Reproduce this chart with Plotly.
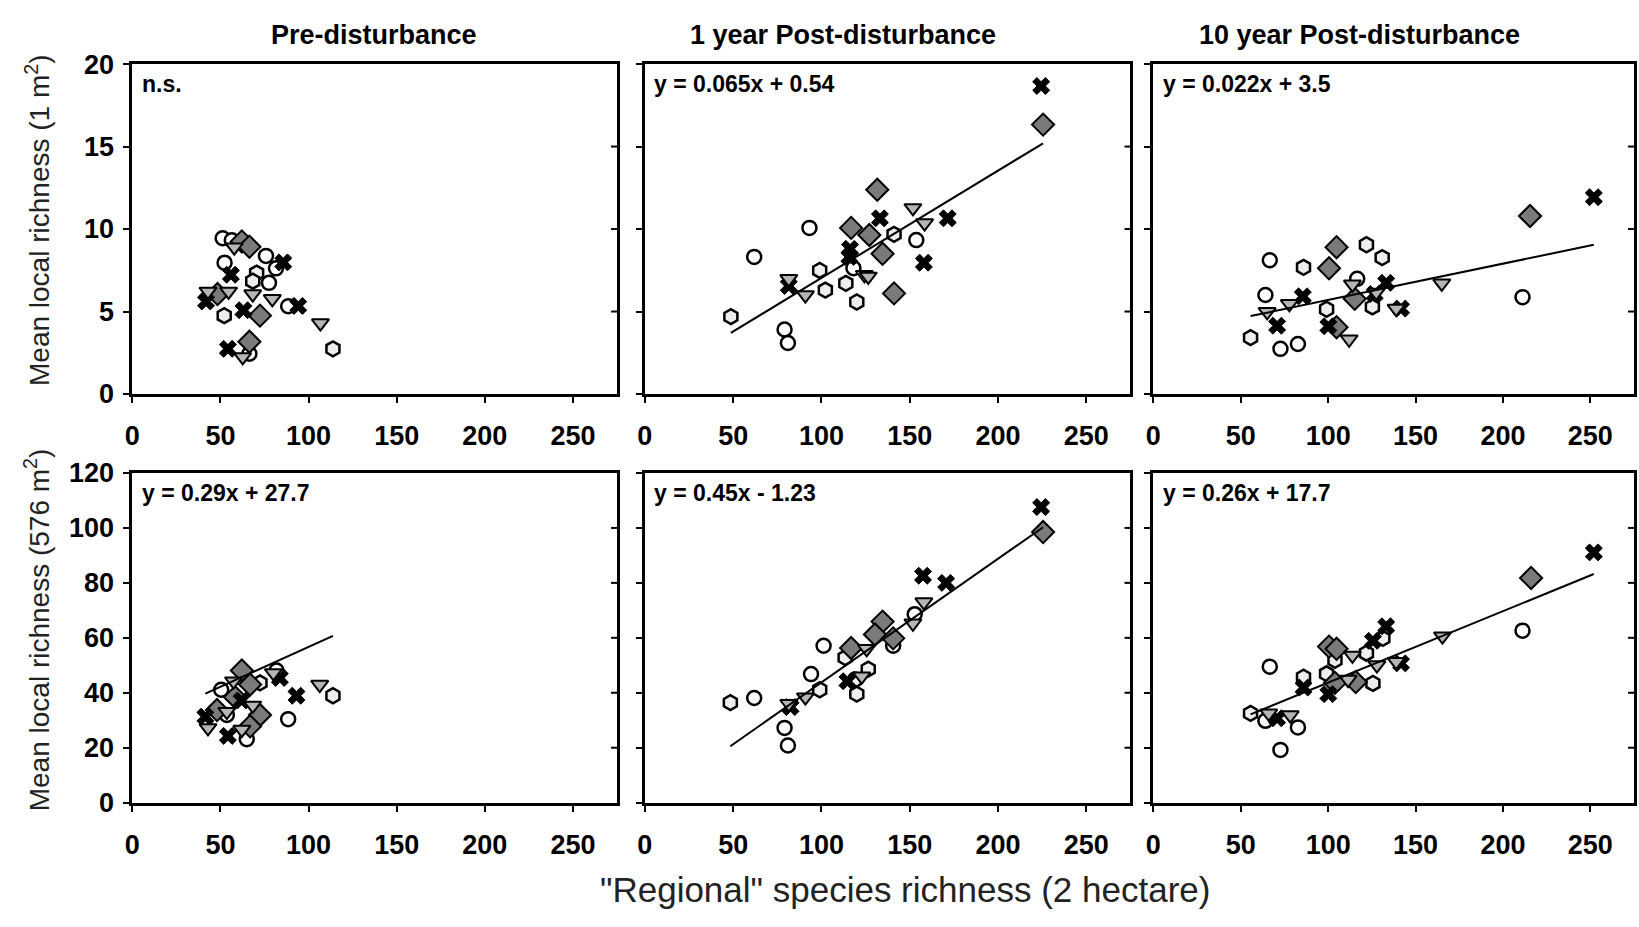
import plotly.graph_objects as go

# ---------------- data ----------------
# x = "regional" species richness (2 ha), y = mean local richness
# Panel 1: pre-disturbance, 1 m2
p1_circ_x = [51.2, 56.4, 52.3, 75.8, 81.5, 77.5, 88.4, 66.4]
p1_circ_y = [9.44, 9.32, 7.96, 8.37, 7.62, 6.74, 5.32, 2.44]
p1_hex_x = [70.5, 68.3, 52.1, 113.8]
p1_hex_y = [7.33, 6.84, 4.75, 2.74]
p1_dia_x = [62.1, 66.4, 48.3, 72.4, 66.4]
p1_dia_y = [9.25, 8.93, 6.06, 4.75, 3.17]
p1_x_x = [85.6, 55.9, 41.8, 63.0, 94.1, 54.2]
p1_x_y = [7.98, 7.23, 5.61, 5.08, 5.34, 2.74]
p1_tri_x = [57.8, 42.9, 54.6, 68.3, 79.4, 106.7, 62.6]
p1_tri_y = [8.90, 6.22, 6.22, 6.06, 5.77, 4.30, 2.25]

# Panel 2: 1 year post-disturbance, 1 m2
p2_circ_x = [93.2, 61.9, 153.7, 79.1, 81.0, 118.1]
p2_circ_y = [10.07, 8.31, 9.33, 3.91, 3.09, 7.63]
p2_hex_x = [48.7, 99.0, 102.2, 113.8, 120.0, 141.1]
p2_hex_y = [4.69, 7.49, 6.30, 6.71, 5.58, 9.68]
p2_dia_x = [225.5, 131.6, 116.8, 127.1, 134.6, 141.1]
p2_dia_y = [16.33, 12.38, 10.07, 9.64, 8.50, 6.10]
p2_x_x = [224.4, 133.1, 171.5, 116.2, 115.8, 158.0, 81.5]
p2_x_y = [18.67, 10.65, 10.65, 8.80, 8.31, 7.96, 6.55]
p2_tri_x = [151.8, 158.4, 81.5, 90.9, 124.3, 126.5]
p2_tri_y = [11.28, 10.36, 6.98, 6.00, 7.23, 7.13]

# Panel 3: 10 year post-disturbance, 1 m2
p3_circ_x = [66.6, 64.1, 211.2, 72.7, 82.7, 116.6]
p3_circ_y = [8.11, 6.00, 5.87, 2.74, 3.03, 6.98]
p3_hex_x = [55.6, 85.9, 121.9, 130.9, 99.1, 125.3]
p3_hex_y = [3.42, 7.68, 9.05, 8.27, 5.14, 5.28]
p3_dia_x = [215.5, 104.8, 100.5, 115.2, 104.8]
p3_dia_y = [10.79, 8.90, 7.62, 5.77, 4.05]
p3_x_x = [252.0, 133.2, 85.5, 70.8, 100.1, 141.7, 126.6]
p3_x_y = [11.93, 6.74, 5.92, 4.14, 4.11, 5.18, 6.06]
p3_tri_x = [65.1, 77.8, 113.9, 127.5, 138.9, 165.0, 112.0]
p3_tri_y = [4.98, 5.47, 6.65, 6.16, 5.18, 6.71, 3.32]

# Panel 4: pre-disturbance, 576 m2
p4_circ_x = [88.4, 64.9, 50.4, 81.8, 53.6]
p4_circ_y = [30.4, 23.1, 41.1, 48.1, 31.9]
p4_hex_x = [113.8, 72.4]
p4_hex_y = [38.9, 43.6]
p4_dia_x = [62.1, 66.8, 58.3, 72.4, 48.0, 66.8]
p4_dia_y = [48.1, 43.0, 38.4, 31.9, 33.7, 27.8]
p4_x_x = [83.7, 93.1, 41.4, 54.2, 62.0]
p4_x_y = [45.4, 38.9, 31.3, 24.3, 37.2]
p4_tri_x = [106.3, 80.0, 57.4, 68.3, 42.9, 62.1, 53.6]
p4_tri_y = [43.0, 47.2, 44.2, 35.4, 27.2, 26.6, 33.1]

# Panel 5: 1 year post-disturbance, 576 m2
p5_circ_x = [61.9, 94.1, 101.2, 79.1, 81.0, 152.8, 140.6, 119.0]
p5_circ_y = [38.1, 46.8, 57.1, 27.2, 20.8, 68.6, 57.1, 44.8]
p5_hex_x = [48.4, 99.0, 113.4, 120.0, 126.5]
p5_hex_y = [36.4, 41.1, 52.8, 39.5, 48.6]
p5_dia_x = [225.5, 134.6, 130.3, 140.6, 116.8]
p5_dia_y = [98.5, 65.9, 61.2, 59.8, 56.3]
p5_x_x = [224.4, 157.5, 170.6, 114.7, 82.5]
p5_x_y = [107.6, 82.6, 80.0, 44.2, 34.8]
p5_tri_x = [158.0, 151.8, 125.6, 122.8, 90.9, 81.5]
p5_tri_y = [73.0, 65.3, 56.0, 46.0, 38.4, 36.0]

# Panel 6: 10 year post-disturbance, 576 m2
p6_circ_x = [66.6, 211.2, 64.1, 82.7, 72.7]
p6_circ_y = [49.5, 62.6, 29.8, 27.4, 19.2]
p6_hex_x = [55.6, 85.9, 99.1, 131.3, 121.9, 125.6, 103.9]
p6_hex_y = [32.5, 45.7, 46.9, 59.8, 54.4, 43.4, 51.8]
p6_dia_x = [216.1, 100.5, 104.8, 103.9, 115.8]
p6_dia_y = [81.8, 56.8, 56.0, 43.6, 43.9]
p6_x_x = [252.0, 133.2, 125.6, 141.7, 85.9, 100.1, 70.8]
p6_x_y = [91.1, 64.2, 58.9, 50.7, 41.9, 39.5, 30.7]
p6_tri_x = [165.4, 113.9, 127.9, 138.9, 111.4, 66.0, 78.3]
p6_tri_y = [60.6, 53.6, 50.1, 51.3, 44.8, 32.5, 31.9]

# Fitted lines (slope, intercept); None where not significant
fit_slope = [None, 0.065, 0.022, 0.29, 0.45, 0.26]
fit_intercept = [None, 0.54, 3.5, 27.7, -1.23, 17.7]
fit_labels = ["n.s.", "y = 0.065x + 0.54", "y = 0.022x + 3.5",
              "y = 0.29x + 27.7", "y = 0.45x - 1.23", "y = 0.26x + 17.7"]

col_titles = ["Pre-disturbance", "1 year Post-disturbance", "10 year Post-disturbance"]
x_ticks = [0, 50, 100, 150, 200, 250]
y_ticks_top = [0, 5, 10, 15, 20]
y_ticks_bottom = [0, 20, 40, 60, 80, 100, 120]

panels = [
    (p1_circ_x, p1_circ_y, p1_hex_x, p1_hex_y, p1_dia_x, p1_dia_y, p1_x_x, p1_x_y, p1_tri_x, p1_tri_y),
    (p2_circ_x, p2_circ_y, p2_hex_x, p2_hex_y, p2_dia_x, p2_dia_y, p2_x_x, p2_x_y, p2_tri_x, p2_tri_y),
    (p3_circ_x, p3_circ_y, p3_hex_x, p3_hex_y, p3_dia_x, p3_dia_y, p3_x_x, p3_x_y, p3_tri_x, p3_tri_y),
    (p4_circ_x, p4_circ_y, p4_hex_x, p4_hex_y, p4_dia_x, p4_dia_y, p4_x_x, p4_x_y, p4_tri_x, p4_tri_y),
    (p5_circ_x, p5_circ_y, p5_hex_x, p5_hex_y, p5_dia_x, p5_dia_y, p5_x_x, p5_x_y, p5_tri_x, p5_tri_y),
    (p6_circ_x, p6_circ_y, p6_hex_x, p6_hex_y, p6_dia_x, p6_dia_y, p6_x_x, p6_x_y, p6_tri_x, p6_tri_y),
]

# ---------------- layout geometry ----------------
W, H = 1639, 927
col_px = [(125, 612), (640, 1128), (1151, 1634)]
row_px = [(50.7, 391.7), (473.3, 814.0)]
x_dom = [[a / W, b / W] for a, b in col_px]
y_dom = [[1 - b / H, 1 - a / H] for a, b in row_px]

FONT = "Liberation Sans, Arial, sans-serif"
styles = {
    "circ": dict(symbol="circle", size=14, color="#ffffff", line=dict(color="black", width=2.5)),
    "hex": dict(symbol="hexagon", size=15, color="#eeeeee", line=dict(color="black", width=2.5)),
    "dia": dict(symbol="diamond", size=17, color="#7a7a7a", line=dict(color="black", width=2)),
    "x": dict(symbol="x", size=15, color="black", line=dict(color="black", width=1)),
    "tri": dict(symbol="triangle-down", size=15, color="#b5b5b5", line=dict(color="black", width=2)),
}
order = ["circ", "hex", "dia", "x", "tri"]

fig = go.Figure()
layout = dict(width=W, height=H, margin=dict(l=0, r=0, t=0, b=0),
              paper_bgcolor="white", plot_bgcolor="white", showlegend=False,
              font=dict(family=FONT, color="black"))
shapes, annotations = [], []

for i, data in enumerate(panels):
    r, c = divmod(i, 3)
    n = i + 1
    xa = "x" if n == 1 else f"x{n}"
    ya = "y" if n == 1 else f"y{n}"
    all_x = []
    for k, key in enumerate(order):
        xs, ys = data[2 * k], data[2 * k + 1]
        all_x += xs
        fig.add_trace(go.Scatter(x=xs, y=ys, mode="markers", marker=styles[key],
                                 xaxis=xa, yaxis=ya, hoverinfo="x+y"))
    if fit_slope[i] is not None:
        lx = [min(all_x), max(all_x)]
        ly = [fit_slope[i] * v + fit_intercept[i] for v in lx]
        fig.add_trace(go.Scatter(x=lx, y=ly, mode="lines", line=dict(color="black", width=2),
                                 xaxis=xa, yaxis=ya, hoverinfo="skip"))

    yt = y_ticks_top if r == 0 else y_ticks_bottom
    layout[f"xaxis{'' if n == 1 else n}"] = dict(
        domain=x_dom[c], anchor=ya, range=[0, 275], tickvals=x_ticks,
        showline=True, linecolor="black", linewidth=3, mirror=True,
        ticks="outside", ticklen=6, tickwidth=2, tickcolor="black",
        ticklabelstandoff=10, showgrid=False, zeroline=False,
        tickfont=dict(size=27, family=FONT, color="black", weight="bold"))
    layout[f"yaxis{'' if n == 1 else n}"] = dict(
        domain=y_dom[r], anchor=xa, range=[0, yt[-1]], tickvals=yt,
        showticklabels=(c == 0), ticklabelstandoff=4,
        showline=True, linecolor="black", linewidth=3, mirror=True,
        ticks="outside", ticklen=6, tickwidth=2, tickcolor="black",
        showgrid=False, zeroline=False,
        tickfont=dict(size=27, family=FONT, color="black", weight="bold"))

    # inward ticks on the right-hand frame
    wpx = col_px[c][1] - col_px[c][0]
    for v in yt[1:-1]:
        shapes.append(dict(type="line", xref=f"{xa} domain", yref=ya,
                           x0=1, x1=1 - 6 / wpx, y0=v, y1=v,
                           line=dict(color="black", width=2)))

    annotations.append(dict(text=f"<b>{fit_labels[i]}</b>", xref=f"{xa} domain", yref=f"{ya} domain",
                            x=0.015, y=0.94, xanchor="left", yanchor="middle", showarrow=False,
                            font=dict(size=23, family=FONT, color="black")))

# column titles
title_cx = [368, 839, 1358]
for c, t in enumerate(col_titles):
    annotations.append(dict(text=f"<b>{t}</b>", xref="paper", yref="paper",
                            x=title_cx[c] / W, y=1 - 21 / H, xanchor="center", yanchor="middle",
                            showarrow=False, font=dict(size=27, family=FONT, color="black")))

# axis titles
annotations.append(dict(text="Mean local richness (1 m<sup>2</sup>)", xref="paper", yref="paper",
                        x=30 / W, y=1 - 212 / H, textangle=-90, xanchor="center", yanchor="middle",
                        showarrow=False, font=dict(size=28, family=FONT, color="#222222")))
annotations.append(dict(text="Mean local richness (576 m<sup>2</sup>)", xref="paper", yref="paper",
                        x=30 / W, y=1 - 635 / H, textangle=-90, xanchor="center", yanchor="middle",
                        showarrow=False, font=dict(size=28, family=FONT, color="#222222")))
annotations.append(dict(text='"Regional" species richness (2 hectare)', xref="paper", yref="paper",
                        x=901 / W, y=1 - 904 / H, xanchor="center", yanchor="middle",
                        showarrow=False, font=dict(size=35, family=FONT, color="#222222")))

layout["shapes"] = shapes
layout["annotations"] = annotations
fig.update_layout(**layout)
fig.write_html("out.html", post_script="document.body.style.margin='0';")
